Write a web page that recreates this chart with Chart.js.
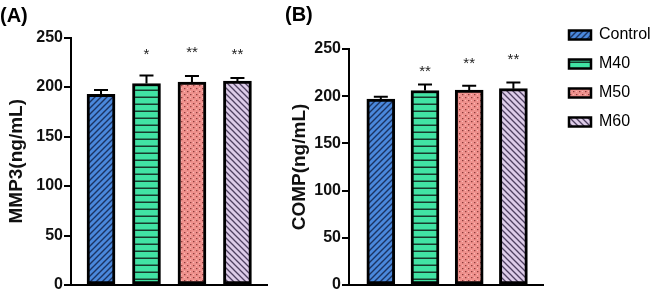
<!DOCTYPE html>
<html>
<head>
<meta charset="utf-8">
<script src="https://cdn.jsdelivr.net/npm/chart.js@4/dist/chart.umd.min.js"></script>
<style>
  html, body { margin: 0; padding: 0; background: #ffffff; width: 661px; height: 296px; overflow: hidden; }
  #wrapA { position: absolute; left: 0; top: 0; width: 272px; height: 296px; }
  #wrapB { position: absolute; left: 272px; top: 0; width: 389px; height: 296px; }
</style>
</head>
<body>
<div id="wrapA"><canvas id="chartA" width="272" height="296"></canvas></div>
<div id="wrapB"><canvas id="chartB" width="389" height="296"></canvas></div>
<script>
// ---- data ----
const groups = ['Control', 'M40', 'M50', 'M60'];
const mmp3Mean = [192.5, 203.5, 205, 206];
const mmp3Err  = [4.5, 8, 6, 3];
const mmp3Sig  = ['', '*', '**', '**'];
const mmp3SigAt = [null, 235, 237, 235];
const compMean = [197, 206, 206.5, 208];
const compErr  = [2.5, 6.5, 4.5, 6.5];
const compSig  = ['', '**', '**', '**'];
const compSigAt = [null, 228, 237, 241.5];
const yTicks = [0, 50, 100, 150, 200, 250];

Chart.defaults.font.family = "'Liberation Sans', Arial, sans-serif";
Chart.defaults.color = '#111';

// ---- patterns ----
function makePattern(w, h, bg, draw) {
  const c = document.createElement('canvas');
  c.width = w; c.height = h;
  const g = c.getContext('2d');
  g.fillStyle = bg; g.fillRect(0, 0, w, h);
  draw(g, w, h);
  return g.createPattern(c, 'repeat');
}
const patControl = makePattern(6, 6, '#4a88dc', (g) => {
  g.strokeStyle = '#1b3361'; g.lineWidth = 1.4;
  g.beginPath();
  g.moveTo(0, 6); g.lineTo(6, 0);
  g.moveTo(-1, 1); g.lineTo(1, -1);
  g.moveTo(5, 7); g.lineTo(7, 5);
  g.stroke();
});
const patM40 = makePattern(7, 7, '#41e3a4', (g) => {
  g.fillStyle = '#183a2c'; g.fillRect(0, 5.5, 7, 1.5);
});
const patM50 = makePattern(6, 6, '#ef918d', (g) => {
  g.fillStyle = '#8c3b3b';
  g.fillRect(1, 1, 1.4, 1.2);
  g.fillRect(4, 4, 1.4, 1.2);
  g.fillStyle = '#f7b8b4';
  g.fillRect(4, 1, 1, 1);
  g.fillRect(1, 4, 1, 1);
});
const patM60 = makePattern(6, 6, '#ddcce8', (g) => {
  g.strokeStyle = '#4e4060'; g.lineWidth = 1.3;
  g.beginPath();
  g.moveTo(0, 0); g.lineTo(6, 6);
  g.moveTo(-1, 5); g.lineTo(1, 7);
  g.moveTo(5, -1); g.lineTo(7, 1);
  g.stroke();
});
const patterns = [patControl, patM40, patM50, patM60];

// ---- plugins ----
const errorBars = {
  id: 'errorBars',
  afterDatasetsDraw(chart, args, opts) {
    const meta = chart.getDatasetMeta(0);
    const yS = chart.scales.y;
    const c = chart.ctx;
    c.save();
    c.strokeStyle = '#000';
    c.lineWidth = 2;
    meta.data.forEach((bar, i) => {
      const top = yS.getPixelForValue(opts.means[i] + opts.errs[i]);
      const base = yS.getPixelForValue(opts.means[i]);
      c.beginPath();
      c.moveTo(bar.x, base);
      c.lineTo(bar.x, top);
      c.moveTo(bar.x - 7, top);
      c.lineTo(bar.x + 7, top);
      c.stroke();
      if (opts.sig[i]) {
        c.fillStyle = '#222';
        c.font = "15px 'Liberation Sans', Arial, sans-serif";
        c.textAlign = 'center';
        c.textBaseline = 'alphabetic';
        c.fillText(opts.sig[i], bar.x, yS.getPixelForValue(opts.sigAt[i]) + 6.5);
      }
    });
    c.restore();
  }
};
const legendPlace = {
  id: 'legendPlace',
  afterLayout(chart, args, opts) {
    const lg = chart.legend;
    if (!lg || !opts || opts.left === undefined) return;
    const h = lg.bottom - lg.top;
    lg.left = opts.left; lg.right = chart.width;
    lg.top = opts.top; lg.bottom = opts.top + h;
  }
};

function buildChart(canvasId, o) {
  return new Chart(document.getElementById(canvasId), {
    type: 'bar',
    data: {
      datasets: [{
        label: o.name,
        data: o.means.map((v, i) => ({ x: i, y: v })),
        backgroundColor: patterns,
        borderColor: '#000',
        borderWidth: 3,
        borderSkipped: false,
        barThickness: 28
      }]
    },
    options: {
      responsive: false,
      animation: false,
      devicePixelRatio: 1,
      events: [],
      layout: { padding: o.padding },
      scales: {
        x: {
          type: 'linear',
          offset: false,
          min: o.xMin, max: o.xMax,
          grid: { display: false, drawTicks: false },
          ticks: { display: false },
          border: { display: true, color: '#000', width: 2 },
          afterFit(s) { s.height = 0; }
        },
        y: {
          min: 0, max: 250,
          afterBuildTicks(s) { s.ticks = yTicks.map(v => ({ value: v })); },
          afterFit(s) { s.width = o.yWidth; },
          grid: { drawOnChartArea: false, drawTicks: true, tickLength: 7, color: '#000', lineWidth: 2, tickWidth: 2, tickColor: '#000' },
          border: { display: true, color: '#000', width: 2 },
          ticks: { font: { size: 16, weight: 'bold' }, color: '#111', padding: 1 },
          title: { display: true, text: o.yTitle, font: { size: 19, weight: 'bold' }, color: '#111', padding: { top: o.yTitlePad, bottom: 0 } }
        }
      },
      plugins: {
        title: { display: true, text: o.panel, align: 'start', color: '#000', font: { size: 20, weight: 'bold' }, padding: o.titlePad },
        legend: o.legend,
        tooltip: { enabled: false },
        errorBars: { means: o.means, errs: o.errs, sig: o.sig, sigAt: o.sigAt },
        legendPlace: o.place
      }
    },
    plugins: [errorBars, legendPlace]
  });
}

buildChart('chartA', {
  name: 'MMP3', means: mmp3Mean, errs: mmp3Err, sig: mmp3Sig, sigAt: mmp3SigAt,
  yTitle: 'MMP3(ng/mL)', yTitlePad: 5, panel: '(A)',
  padding: { top: 0, left: 0, right: 5, bottom: 11 },
  titlePad: { top: 4, bottom: 9.5 },
  yWidth: 71, xMin: -0.66, xMax: 3.65,
  legend: { display: false },
  place: {}
});

buildChart('chartB', {
  name: 'COMP', means: compMean, errs: compErr, sig: compSig, sigAt: compSigAt,
  yTitle: 'COMP(ng/mL)', yTitlePad: 3.5, panel: '(B)',
  padding: { top: 0, left: 13, right: 32, bottom: 11 },
  titlePad: { top: 3, bottom: 22 },
  yWidth: 64, xMin: -0.72, xMax: 3.67,
  legend: {
    display: true, position: 'right', align: 'start',
    labels: {
      boxWidth: 22, boxHeight: 9, padding: 13,
      font: { size: 16 }, color: '#222',
      generateLabels: () => groups.map((g, i) => ({
        text: g, fillStyle: patterns[i], strokeStyle: '#000', lineWidth: 2.5, hidden: false, datasetIndex: 0, index: i
      }))
    }
  },
  place: { left: 284, top: 14 }
});
</script>
</body>
</html>
